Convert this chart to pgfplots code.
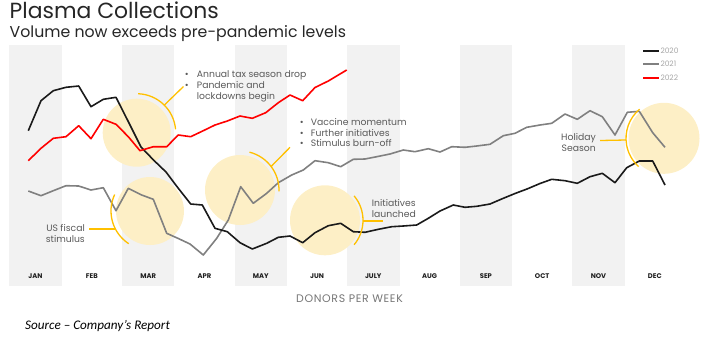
\documentclass[border=0pt]{standalone}
\usepackage{pgfplots}
\pgfplotsset{compat=1.18}
\usepackage{fontspec}
\setmainfont{Poppins}
\newfontfamily\srcfont{Carlito}
\newfontfamily\spacedfont[LetterSpace=6]{Poppins}
\definecolor{band}{RGB}{242,242,242}
\definecolor{circ}{RGB}{253,239,198}
\definecolor{arcc}{RGB}{255,192,0}
\definecolor{c2020}{RGB}{26,26,26}
\definecolor{c2021}{RGB}{128,128,128}
\definecolor{c2022}{RGB}{255,0,0}
\definecolor{titlec}{RGB}{38,38,38}
\definecolor{annc}{RGB}{89,89,89}
\definecolor{legc}{RGB}{166,166,166}
\definecolor{monc}{RGB}{30,30,30}
\definecolor{donc}{RGB}{118,118,118}
\begin{document}
\begin{tikzpicture}
\begin{axis}[
  x=1bp, y=1bp, xmin=0, xmax=706, ymin=0, ymax=338, y dir=reverse,
  scale only axis, clip=false, axis on top,
  axis x line*=bottom, axis y line=none,
  x axis line style={draw=none},
  ytick=\empty,
  xtick={35.5,91.8,148.1,204.4,260.7,317,373.3,429.6,485.9,542.2,598.5,654.8},
  xticklabels={JAN,FEB,MAR,APR,MAY,JUN,JULY,AUG,SEP,OCT,NOV,DEC},
  xtick style={draw=none}, major tick length=0pt,
  xticklabel style={font=\bfseries\fontsize{6.8}{7}\selectfont, text=monc, anchor=center, yshift=61.5bp, inner sep=0pt},
  line join=round,
]
% month bands
\fill[band] (axis cs:9.3,45) rectangle (axis cs:61.8,286);
\fill[band] (axis cs:121.9,45) rectangle (axis cs:174.4,286);
\fill[band] (axis cs:234.5,45) rectangle (axis cs:287,286);
\fill[band] (axis cs:347.1,45) rectangle (axis cs:399.6,286);
\fill[band] (axis cs:459.7,45) rectangle (axis cs:512.2,286);
\fill[band] (axis cs:572.3,45) rectangle (axis cs:624.8,286);
\path (axis cs:0,0) rectangle (axis cs:706,338);
% highlight circles
\fill[circ] (axis cs:136.7,132.7) circle[radius=34bp];
\fill[circ] (axis cs:150,211) circle[radius=34bp];
\fill[circ] (axis cs:240,190) circle[radius=35bp];
\fill[circ] (axis cs:325,220.3) circle[radius=35bp];
\fill[circ] (axis cs:664,138.3) circle[radius=35.5bp];

\addplot[c2021, line width=1.6bp] coordinates {
(28.3,191) (41,195.7) (53.3,190.7) (66,185.7) (78.7,186) (91,190) (103.3,187.7) (116,210.7) (128.3,188.3) (141.7,195) (153.3,199.3) (166.7,233.3) (178.3,238.5) (190,244) (203.3,255) (216.7,238.3) (228.3,220) (240.7,186.7) (253.3,203.3) (266.7,193.3) (278.3,182.7) (291.7,175) (303.3,170) (315,160.7) (328.3,162.7) (340.7,166.7) (353.3,159.3) (365,159) (376.7,156.7) (390,154) (403.3,150) (415,151.7) (428.3,148.7) (440,152) (451.7,146.7) (465,147.3) (476.7,146) (490,144.3) (503.3,135.7) (515,133.3) (526.7,127.3) (540,125) (551.7,123.3) (565,114) (577.3,119.3) (590,110.7) (602.3,116.7) (615,135) (627.3,112.3) (639.3,111.3) (652.7,132.7) (665,147.3)
};
\addplot[c2020, line width=1.6bp] coordinates {
(28.3,130.7) (41,100.7) (53.3,90.7) (66,87.3) (78.7,86) (91,106.7) (103.3,99.3) (116,97.3) (128.5,122) (141,147) (153.5,160) (166,172) (178.3,188.3) (190.7,204) (202.3,205) (215,228.3) (227.3,231.7) (240,242.7) (252.3,249) (266.7,243.3) (278.3,237.3) (290,236) (302.7,242.7) (315,232.7) (328.3,225.7) (340.7,223.3) (353.3,231.7) (365,232.3) (378.3,229.3) (391.7,226.7) (403.3,226) (416.7,225) (428.3,218.3) (440,211) (453.3,205) (465,207.3) (476.7,206.3) (490,204) (503.3,198.3) (515,193.5) (527,189) (540,183.5) (551.7,179.3) (565,180.7) (577.3,183.3) (590,176.7) (602.3,173.3) (615,182.7) (626.7,167.7) (639.3,161) (652.7,161) (665,185)
};
\addplot[c2022, line width=1.6bp] coordinates {
(28.3,160.7) (41,148.3) (53.3,138.3) (66,136.7) (78.7,125.7) (91,138.7) (103.3,119.3) (116,124.3) (128.3,136.7) (140,150.7) (153.3,146.7) (166.7,146.7) (178.3,135) (190.7,136.7) (203.3,130.7) (215,125) (227.3,121) (240,116) (252.3,118.3) (265.7,112.7) (278.3,102.7) (290,95) (302.7,100.7) (315,87.5) (328.3,81) (346.7,70)
};

% arcs and connectors
\draw[arcc, line width=1.3bp] (axis cs:136.7,132.7) ++(5:39bp) arc[start angle=5, end angle=88, radius=39bp];
\draw[arcc, line width=1.3bp] (axis cs:164.3,105.1) -- (axis cs:183.5,86.5);
\draw[arcc, line width=1.3bp] (axis cs:150,211) ++(155:39bp) arc[start angle=155, end angle=237, radius=39bp];
\draw[arcc, line width=1.3bp] (axis cs:115.4,229) -- (axis cs:88.5,229);
\draw[arcc, line width=1.3bp] (axis cs:240,190) ++(-2:39bp) arc[start angle=-2, end angle=76, radius=39bp];
\draw[arcc, line width=1.3bp] (axis cs:271.1,166.5) -- (axis cs:290,147.3);
\draw[arcc, line width=1.3bp] (axis cs:325,220.3) ++(-40:38bp) arc[start angle=-40, end angle=40, radius=38bp];
\draw[arcc, line width=1.3bp] (axis cs:363,221) -- (axis cs:383.3,221);
\draw[arcc, line width=1.3bp] (axis cs:664,138.3) ++(130:38bp) arc[start angle=130, end angle=228, radius=38bp];
\draw[arcc, line width=1.3bp] (axis cs:626,140) -- (axis cs:600,140.5);

% annotations
\begin{scope}[every node/.style={inner sep=0pt, text=annc, font=\fontsize{9.3}{10}\selectfont}]
\node[anchor=base] at (axis cs:186.7,77.2) {•};
\node[anchor=base] at (axis cs:186.7,88.2) {•};
\node[anchor=base west] at (axis cs:196.7,77.2) {Annual tax season drop};
\node[anchor=base west] at (axis cs:196.7,88.2) {Pandemic and};
\node[anchor=base west] at (axis cs:196.7,99.2) {lockdowns begin};
\node[anchor=base] at (axis cs:301.7,125) {•};
\node[anchor=base] at (axis cs:301.7,136) {•};
\node[anchor=base] at (axis cs:301.7,146.7) {•};
\node[anchor=base west] at (axis cs:310.7,125) {Vaccine momentum};
\node[anchor=base west] at (axis cs:310.7,136) {Further initiatives};
\node[anchor=base west] at (axis cs:310.7,146.7) {Stimulus burn-off};
\node[anchor=base east] at (axis cs:85,231) {US fiscal};
\node[anchor=base east] at (axis cs:85,242.6) {stimulus};
\node[anchor=base west] at (axis cs:371.7,206) {Initiatives};
\node[anchor=base west] at (axis cs:371.7,217.3) {launched};
\node[anchor=base east] at (axis cs:596,140) {Holiday};
\node[anchor=base east] at (axis cs:596,151.6) {Season};
\end{scope}

% legend
\draw[draw=c2020, line width=1.8bp] (axis cs:643.3,50.7) -- (axis cs:659.3,50.7);
\draw[draw=c2021, line width=1.8bp] (axis cs:643.3,64.2) -- (axis cs:659.3,64.2);
\draw[draw=c2022, line width=1.8bp] (axis cs:643.3,77.7) -- (axis cs:659.3,77.7);
\begin{scope}[every node/.style={inner sep=0pt, text=legc, font=\fontsize{7.5}{8}\selectfont, anchor=west}]
\node at (axis cs:660.3,50.7) {2020};
\node at (axis cs:660.3,64.2) {2021};
\node at (axis cs:660.3,77.7) {2022};
\end{scope}

% titles
\node[anchor=base west, inner sep=0pt, text=titlec, font=\fontsize{22}{23}\selectfont] at (axis cs:9.5,18.8) {Plasma Collections};
\node[anchor=base west, inner sep=0pt, text=titlec, font=\fontsize{15.8}{17}\selectfont] at (axis cs:9.5,37.3) {Volume now exceeds pre-pandemic levels};
\node[anchor=center, inner sep=0pt, text=donc, font=\spacedfont\fontsize{11}{12}\selectfont] at (axis cs:349.5,299) {DONORS PER WEEK};
\node[anchor=base west, inner sep=0pt, text=black, font=\srcfont\itshape\fontsize{13.2}{14}\selectfont] at (axis cs:25,329.5) {Source – Company’s Report};
\end{axis}
\end{tikzpicture}
\end{document}
